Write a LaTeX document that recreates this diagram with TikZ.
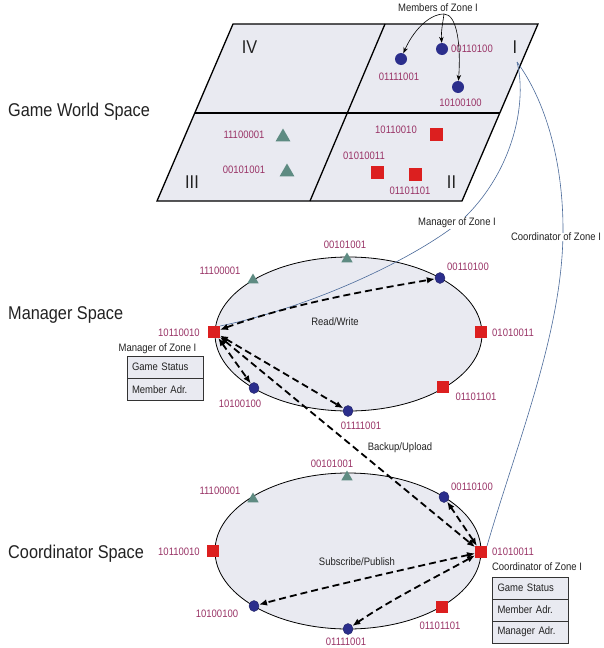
\documentclass[tikz,border=0pt]{standalone}
\usepackage{fontspec}
\setmainfont{Liberation Sans}[FakeStretch=0.88]
\usetikzlibrary{arrows.meta,shapes.geometric}

\definecolor{zonefill}{HTML}{E9EAF1}
\definecolor{idcol}{HTML}{993366}
\definecolor{peercircle}{HTML}{2B2E8C}
\definecolor{peersquare}{HTML}{DC1F1F}
\definecolor{peertri}{HTML}{5E8B82}
\definecolor{linkblue}{HTML}{4A6A9A}
\definecolor{txtgray}{HTML}{222222}

\tikzset{
  idlabel/.style={text=idcol, font=\fontsize{10.8}{12}\selectfont, inner sep=0pt},
  note/.style={text=txtgray, font=\fontsize{10.8}{12}\selectfont, inner sep=0.5pt},
  spacetitle/.style={text=txtgray, font=\fontsize{18.5}{20}\selectfont, anchor=base west, inner sep=0pt},
  numeral/.style={text=txtgray, font=\fontsize{18.5}{20}\selectfont, anchor=base, inner sep=0pt},
  bigdot/.style={ellipse, fill=peercircle, minimum width=12pt, minimum height=12pt, inner sep=0pt},
  dot/.style={ellipse, fill=peercircle, draw=peercircle!70!black, line width=0.4pt, minimum width=10pt, minimum height=11pt, inner sep=0pt},
  bigsq/.style={rectangle, fill=peersquare, minimum size=13pt, inner sep=0pt},
  sq/.style={rectangle, fill=peersquare, minimum size=11.5pt, inner sep=0pt},
  bigtri/.style={regular polygon, regular polygon sides=3, fill=peertri, minimum size=17pt, inner sep=0pt},
  tri/.style={regular polygon, regular polygon sides=3, fill=peertri, minimum size=13pt, inner sep=0pt},
  zoneline/.style={line width=1.3pt, black, line join=miter},
  ring/.style={ellipse, draw=black, line width=0.8pt, fill=zonefill, inner sep=0pt},
  cell/.style={draw=black!80, line width=0.9pt, fill=zonefill, text=txtgray,
    font=\fontsize{10.8}{12}\selectfont, minimum height=22pt, text width=66pt,
    inner xsep=5pt, inner ysep=0pt, align=left},
  link/.style={linkblue, line width=0.6pt},
  linklabel/.style={note, fill=white},
  dasharrow/.style={line width=1.8pt, dash pattern=on 7pt off 4pt,
    {Latex[length=8pt,width=6.5pt]}-{Latex[length=8pt,width=6.5pt]}},
  memberarrow/.style={line width=0.6pt, black, -{Stealth[length=6pt,width=4.5pt]}},
}

\begin{document}
\begin{tikzpicture}[x=1pt,y=-1pt]
\useasboundingbox[fill=white] (0,0) rectangle (603,648);

% ---------------- Game world: four zones ----------------
\fill[zonefill] (233,24) -- (538,24) -- (462,201) -- (157,201) -- cycle;
\draw[zoneline] (233,24) -- (538,24) -- (462,201) -- (157,201) -- cycle;
\draw[zoneline] (195,113) -- (500,113);
\draw[zoneline] (385,24) -- (310,201);

\node[numeral] (zIV)  at (249.5,53) {IV};
\node[numeral] (zI)   at (515,53)   {I};
\node[numeral] (zIII) at (192,188)  {III};
\node[numeral] (zII)  at (451.5,188){II};
\coordinate (zIanchor) at (517,62);

\node[spacetitle] (tGame) at (8,116.5) {Game World Space};
\node[spacetitle] (tMgr)  at (8,319)   {Manager Space};
\node[spacetitle] (tCrd)  at (8,558)   {Coordinator Space};

% zone I
\node[bigdot] (g01111001) at (401,59) {};
\node[idlabel] at (399,77) {01111001};
\node[bigdot] (g00110100) at (442,49) {};
\node[idlabel] at (472,49) {00110100};
\node[bigdot] (g10100100) at (458,87) {};
\node[idlabel] at (460.5,103) {10100100};
% zone III
\node[bigtri] (g11100001) at (283,137) {};
\node[idlabel] at (244,135) {11100001};
\node[bigtri] (g00101001) at (287,172) {};
\node[idlabel] at (244,170) {00101001};
% zone II
\node[bigsq] (g10110010) at (436,134.5) {};
\node[idlabel] at (396,130) {10110010};
\node[bigsq] (g01010011) at (377,172.5) {};
\node[idlabel] at (364,156) {01010011};
\node[bigsq] (g01101101) at (415,174.5) {};
\node[idlabel] at (410,191) {01101101};

% members of zone I
\node[note] (members) at (438,8) {Members of Zone I};
\coordinate (mfork) at (444,14);
\draw[memberarrow] (mfork) .. controls (428,14) and (412,33) .. (g01111001);
\draw[memberarrow] (mfork) .. controls (443,22) and (441,30) .. (g00110100);
\draw[memberarrow] (mfork) .. controls (457,14) and (461,45) .. (g10100100);

% ---------------- Rings ----------------
\node[ring, minimum width=267pt, minimum height=154pt] (mgrRing) at (348.5,334) {};
\node[ring, minimum width=266pt, minimum height=156pt] (crdRing) at (348,551) {};

% ---------------- Zone I manager / coordinator links ----------------
\node[sq] (m10110010) at (214,332) {};
\node[sq] (c01010011) at (481,552) {};
\draw[link] (zIanchor) .. controls (527,100) and (515,170) .. (462,220)
  .. controls (420,255) and (320,305) .. (m10110010.north east);
\draw[link] (zIanchor) .. controls (545,100) and (563,160) .. (563,230)
  .. controls (563,330) and (518,440) .. (c01010011.north east);
\node[linklabel] (lblMgr) at (457,223) {Manager of Zone I};
\node[linklabel] (lblCrd) at (556,237) {Coordinator of Zone I};

% ---------------- Manager space ----------------
\node[tri] (m00101001) at (347,259) {};
\node[idlabel] at (345,245) {00101001};
\node[tri] (m11100001) at (253,280) {};
\node[idlabel] at (220,271) {11100001};
\node[dot] (m00110100) at (440,278) {};
\node[idlabel] at (468,267) {00110100};
\node[idlabel] at (179,333) {10110010};
\node[sq] (m01010011) at (481,332) {};
\node[idlabel] at (513,333) {01010011};
\node[dot] (m10100100) at (254,388) {};
\node[idlabel] at (240,404) {10100100};
\node[dot] (m01111001) at (348,411) {};
\node[idlabel] at (361,426) {01111001};
\node[sq] (m01101101) at (443,387) {};
\node[idlabel] at (476,397) {01101101};

\node[note] (mgrTitle) at (157.5,349) {Manager of Zone I};
\node[cell] (mgrStatus) at (165,367) {Game Status};
\node[cell] (mgrMember) at (165,389.5) {Member Adr.};

\node[note] (rw) at (335,321.5) {Read/Write};

% ---------------- Coordinator space ----------------
\node[tri] (c00101001) at (347,477) {};
\node[idlabel] at (332,464) {00101001};
\node[tri] (c11100001) at (253,499) {};
\node[idlabel] at (220,491) {11100001};
\node[dot] (c00110100) at (444,497) {};
\node[idlabel] at (472,487) {00110100};
\node[sq] (c10110010) at (213,551) {};
\node[idlabel] at (179,552) {10110010};
\node[idlabel] at (513,552) {01010011};
\node[dot] (c10100100) at (254,606) {};
\node[idlabel] at (217,614) {10100100};
\node[dot] (c01111001) at (348,629) {};
\node[idlabel] at (346,642) {01111001};
\node[sq] (c01101101) at (442,607) {};
\node[idlabel] at (440,626) {01101101};

\node[note] (crdTitle) at (537,567) {Coordinator of Zone I};
\node[cell] (crdStatus)  at (530.5,588) {Game Status};
\node[cell] (crdMember)  at (530.5,610) {Member Adr.};
\node[cell] (crdManager) at (530.5,632) {Manager Adr.};

\node[note] (sp) at (357,562) {Subscribe/Publish};
\node[note] (bu) at (400,448) {Backup/Upload};

% ---------------- Message flows ----------------
\draw[dasharrow] (m10110010) .. controls (290,304) and (370,290) .. (m00110100);
\draw[dasharrow] (m10110010) -- (m10100100);
\draw[dasharrow] (m10110010) -- (m01111001);
\draw[dasharrow] (m10110010) -- (c01010011);
\draw[dasharrow] (c01010011) -- (c00110100);
\draw[dasharrow] (c01010011) .. controls (420,566) and (320,588) .. (c10100100);
\draw[dasharrow] (c01010011) .. controls (440,575) and (390,600) .. (c01111001);
\end{tikzpicture}
\end{document}
